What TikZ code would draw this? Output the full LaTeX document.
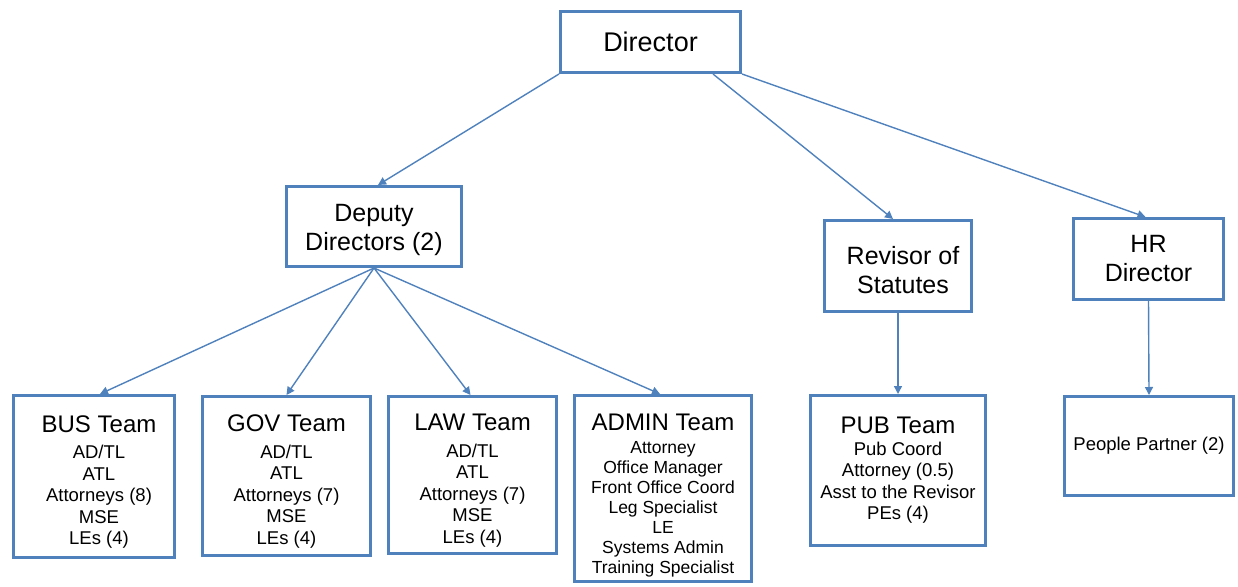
\documentclass[tikz,border=0pt]{standalone}
\usepackage{fontspec}
\setmainfont{Liberation Sans}
\usetikzlibrary{arrows.meta}
\definecolor{boxblue}{RGB}{79,129,189}
\tikzset{
  box/.style={draw=boxblue, line width=3pt, fill=white, align=center, inner sep=0pt, text=black},
  conn/.style={draw=boxblue, line width=1.4pt, -{Triangle[length=8pt,width=8pt]}},
  topf/.style={font=\fontsize{27}{32}\selectfont},
  midf/.style={font=\fontsize{25}{29}\selectfont},
  teamf/.style={font=\fontsize{18.5}{21.5}\selectfont},
  adminf/.style={font=\fontsize{17.5}{20}\selectfont}
}
\newcommand{\ttl}[3]{{\fontsize{24}{28}\selectfont\rule{0pt}{#2pt}#1}\\[#3pt]}
\begin{document}
\begin{tikzpicture}[x=1pt,y=-1pt]
\useasboundingbox (0,0) rectangle (1238,586);
\node[box,topf,minimum width=180pt,minimum height=61pt] (dir) at (650.5,42) {Director};
\node[box,midf,minimum width=175pt,minimum height=80pt] (dep) at (374,226.5) {\rule{0pt}{25pt}Deputy\\Directors (2)};
\node[box,midf,minimum width=147pt,minimum height=91pt] (rev) at (898,266) {\rule{0pt}{27pt}\hspace*{10pt}Revisor of\\\hspace*{10pt}Statutes};
\node[box,midf,minimum width=150pt,minimum height=81pt] (hr) at (1148.5,259) {HR\\Director};
\node[box,teamf,minimum width=161pt,minimum height=162pt] (bus) at (94,476.5) {\ttl{\hspace*{10pt}BUS Team}{28}{5}\hspace*{10pt}AD/TL\\\hspace*{10pt}ATL\\\hspace*{10pt}Attorneys (8)\\\hspace*{10pt}MSE\\\hspace*{10pt}LEs (4)};
\node[box,teamf,minimum width=168pt,minimum height=159pt] (gov) at (286.5,476) {\ttl{GOV Team}{28}{5}AD/TL\\ATL\\Attorneys (7)\\MSE\\LEs (4)};
\node[box,teamf,minimum width=168pt,minimum height=157pt] (law) at (472.5,475) {\ttl{LAW Team}{28}{5}AD/TL\\ATL\\Attorneys (7)\\MSE\\LEs (4)};
\node[box,adminf,minimum width=177pt,minimum height=186pt] (admin) at (663,488.5) {\ttl{ADMIN Team}{31}{3}Attorney\\Office Manager\\Front Office Coord\\Leg Specialist\\LE\\Systems Admin\\Training Specialist};
\node[box,teamf,minimum width=175pt,minimum height=150pt] (pub) at (898,470.5) {\ttl{PUB Team}{0}{0}Pub Coord\\Attorney (0.5)\\Asst to the Revisor\\PEs (4)};
\node[box,teamf,minimum width=169pt,minimum height=99pt] (ppl) at (1149,446) {People Partner (2)};
\draw[conn] (dir.south west) -- ([xshift=4pt]dep.north);
\draw[conn] ([xshift=-29pt]dir.south east) -- ([xshift=-5pt]rev.north);
\draw[conn] (dir.south east) -- ([xshift=-3pt]hr.north);
\draw[conn] (dep.south) -- ([xshift=6pt]bus.north);
\draw[conn] (dep.south) -- (gov.north);
\draw[conn] (dep.south) -- ([xshift=-2pt]law.north);
\draw[conn] (dep.south) -- ([xshift=-3pt]admin.north);
\draw[conn] (rev.south) -- (pub.north);
\draw[conn] (hr.south) -- (ppl.north);
\end{tikzpicture}
\end{document}
